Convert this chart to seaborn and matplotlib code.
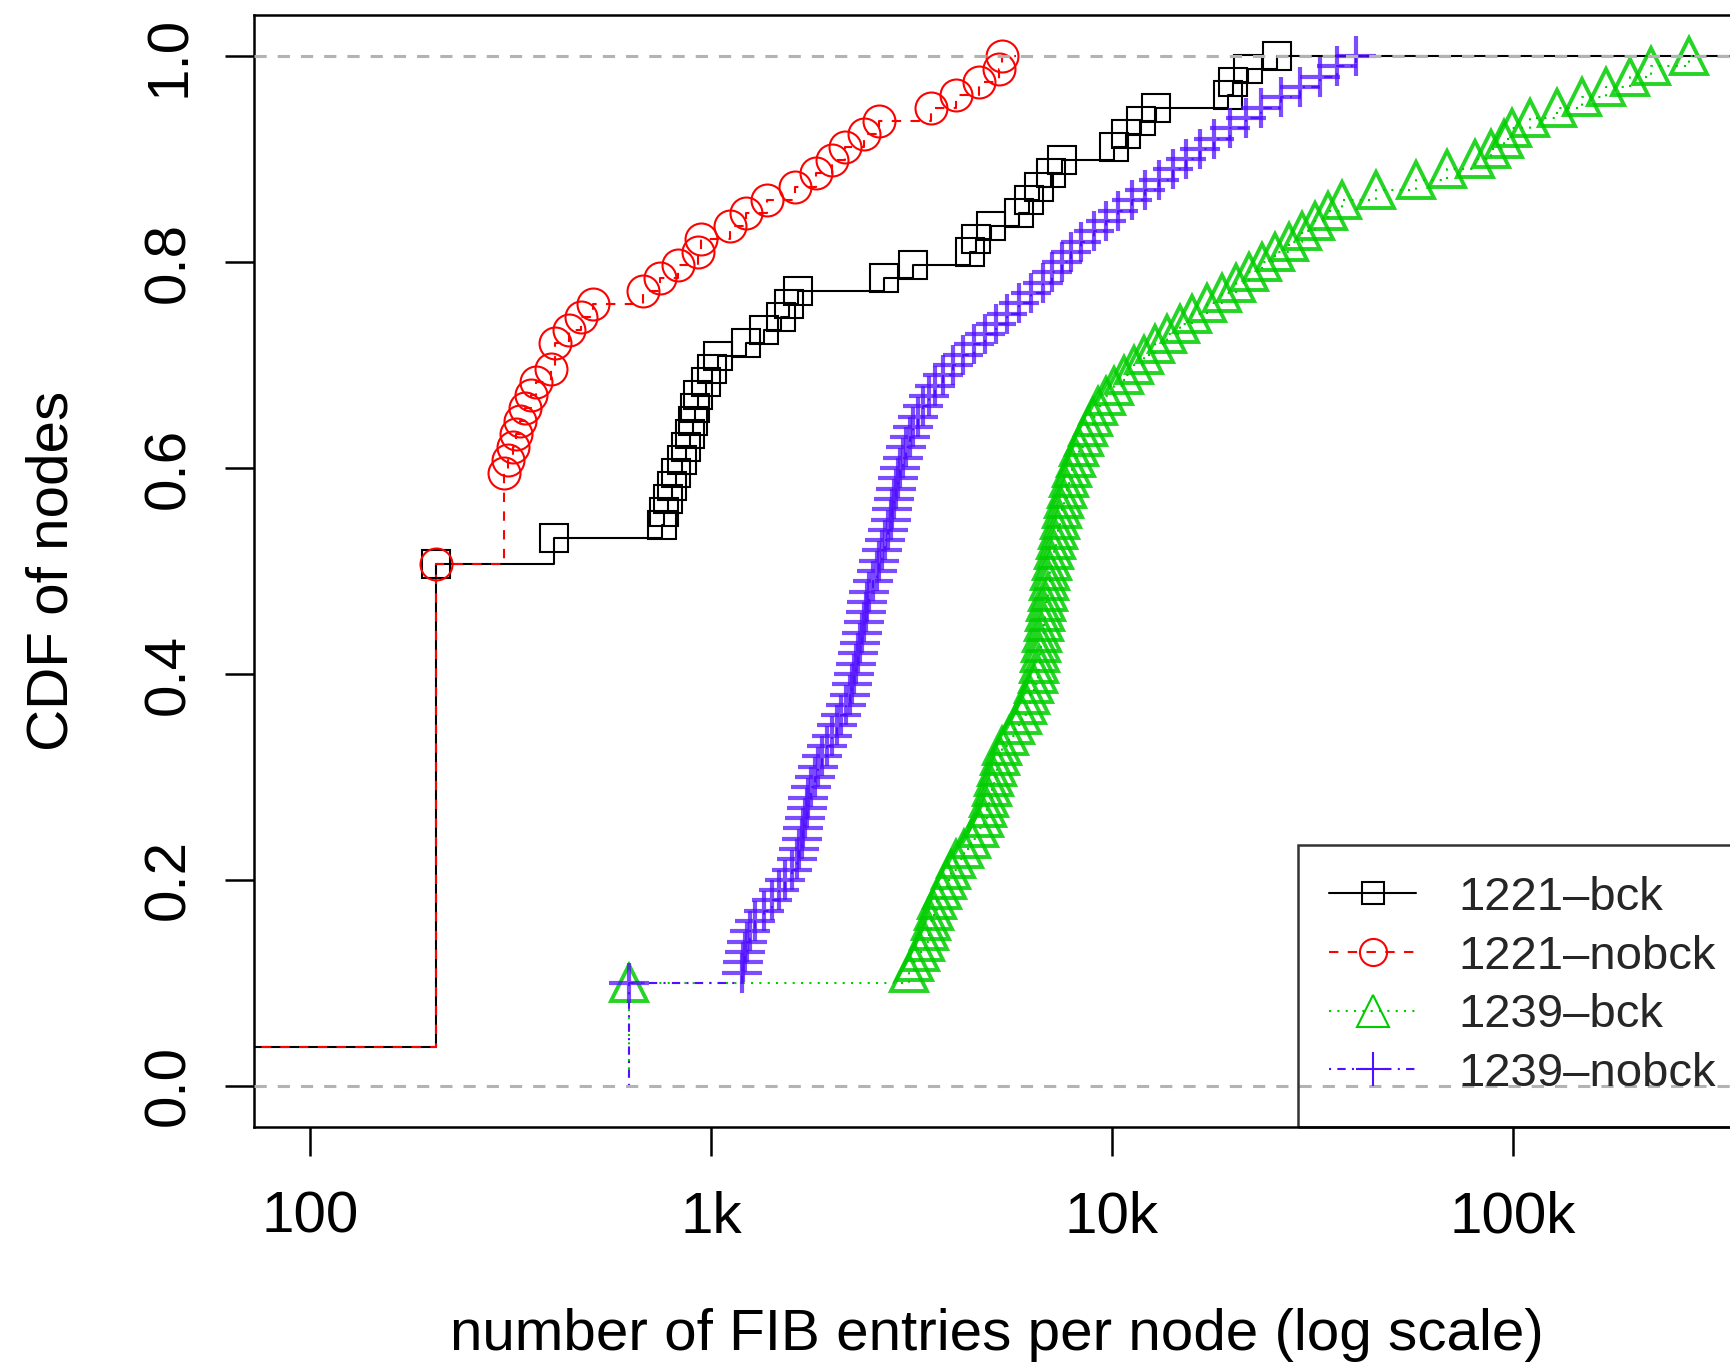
import numpy as np
import matplotlib
matplotlib.use("Agg")
import matplotlib.pyplot as plt
import seaborn as sns
from matplotlib.lines import Line2D
from matplotlib.ticker import FixedLocator, FixedFormatter, NullLocator

# FIB entries per node (10 = below the plotted range)
bck_1221 = [10] * 3 + [206] * 37 + [
    406, 406, 757, 765, 780, 800, 820, 845, 865, 885, 900, 915, 930, 975,
    1007, 1040, 1225, 1355, 1493, 1570, 1652, 2710, 3195, 4436, 4580, 5000,
    5870, 6200, 6580, 7050, 7510, 10140, 10870, 11800, 12890, 19450, 20090,
    21830, 25880,
]
nobck_1221 = [10] * 3 + [206] * 37 + [305] * 7 + [
    311, 320, 327, 335, 344, 355, 367, 399, 409, 409, 442, 475, 507, 679,
    747, 826, 927, 945, 1114, 1225, 1381, 1618, 1827, 2000, 2155, 2415,
    2624, 3532, 4090, 4670, 5240, 5330,
]
bck_1239 = [625] * 10 + [
    3112, 3214, 3319, 3420, 3499, 3548, 3597, 3656, 3767, 3873,
    3981, 4093, 4276, 4467, 4656, 4808, 4875, 4943, 5012, 5093,
    5164, 5248, 5333, 5534, 5741, 5957, 6138, 6266, 6397, 6531,
    6577, 6622, 6668, 6714, 6761, 6823, 6871, 6918, 6966, 7031,
    7079, 7161, 7261, 7345, 7447, 7534, 7621, 7727, 7834, 7980,
    8128, 8299, 8511, 8730, 8954, 9247, 9683, 10140, 10720, 11350,
    12020, 12820, 13770, 14790, 15890, 17260, 18790, 20420, 22030, 23710,
    25590, 27610, 29850, 32210, 34670, 37580, 45710, 57540, 68390, 80350,
    88310, 95060, 99770, 110700, 129100, 149300, 171400, 195900, 221800, 274800,
]
nobck_1239 = [625] * 10 + [
    1197, 1202, 1213, 1233, 1253, 1291, 1355, 1422, 1483, 1535,
    1589, 1641, 1663, 1683, 1702, 1718, 1734, 1750, 1778, 1816,
    1854, 1897, 1950, 2004, 2065, 2113, 2168, 2218, 2249, 2275,
    2301, 2328, 2355, 2382, 2410, 2432, 2455, 2483, 2541, 2594,
    2630, 2673, 2723, 2767, 2812, 2838, 2864, 2891, 2931, 2965,
    3006, 3062, 3133, 3199, 3281, 3388, 3499, 3614, 3802, 4027,
    4266, 4539, 4831, 5140, 5470, 5861, 6281, 6730, 7096, 7499,
    7907, 8395, 9016, 9661, 10380, 11220, 12130, 13120, 14190, 15350,
    16600, 18030, 19720, 21580, 23600, 26360, 29510, 33110, 36560, 40740,
]

legend_labels = ["1221\u2013bck", "1221\u2013nobck", "1239\u2013bck", "1239\u2013nobck"]
x_ticks = [100, 1000, 10000, 100000]
x_tick_labels = ["100", "1k", "10k", "100k"]
y_ticks = [0.0, 0.2, 0.4, 0.6, 0.8, 1.0]
y_tick_labels = ["0.0", "0.2", "0.4", "0.6", "0.8", "1.0"]

XLIM = (72.5, 369000)

styles = [
    dict(color="#000000", ls="-", marker="s", ms=20, leg_ms=16.5, mew=1.5, alpha=1.0, to_edge=True),
    dict(color="#FF0000", ls=(0, (4.5, 4.5)), marker="o", ms=23, leg_ms=19.5, mew=1.5, alpha=1.0, to_edge=False),
    dict(color="#00CD00", ls=(0, (1, 3)), marker="^", ms=26, leg_ms=23, mew=2.8, alpha=0.85, to_edge=False),
    dict(color="#5010FF", ls=(0, (1, 3, 4, 3)), marker="+", ms=29, leg_ms=24, mew=3.0, alpha=0.75, to_edge=False),
]


def ecdf_points(values):
    vals, counts = np.unique(np.asarray(values, dtype=float), return_counts=True)
    return vals, np.cumsum(counts) / counts.sum()


sns.set_theme(style="ticks")
plt.rcParams["font.family"] = ["Liberation Sans", "DejaVu Sans"]
plt.rcParams["axes.unicode_minus"] = False

fig = plt.figure(figsize=(17.31, 13.62), dpi=100)
ax = fig.add_axes([254 / 1731, 1 - 1127 / 1362, 1486 / 1731, 1112 / 1362])
ax.set_xscale("log")
ax.set_xlim(*XLIM)
ax.set_ylim(-0.04, 1.04)

for values, st in zip([bck_1221, nobck_1221, bck_1239, nobck_1239], styles):
    xs, ys = ecdf_points(values)
    # R's stepfun extends the last step by 8% of the range
    tail = XLIM[1] if st["to_edge"] else xs[-1] + 0.08 * (xs[-1] - xs[0])
    line_x = np.r_[xs[0], xs, tail]
    line_y = np.r_[0.0, ys, 1.0]
    sns.lineplot(x=line_x, y=line_y, ax=ax, estimator=None, sort=False,
                 drawstyle="steps-post", color=st["color"], linestyle=st["ls"],
                 linewidth=1.5, zorder=2)
    sns.lineplot(x=xs, y=ys, ax=ax, estimator=None, sort=False,
                 linestyle="none", marker=st["marker"], markersize=st["ms"],
                 mfc="none", mec=st["color"], mew=st["mew"], alpha=st["alpha"],
                 color=st["color"], zorder=3)

for level in (0.0, 1.0):
    ax.axhline(level, color="#B3B3B3", linestyle=(0, (4, 3.6)), linewidth=2.2, zorder=4)

ax.xaxis.set_major_locator(FixedLocator(x_ticks))
ax.xaxis.set_major_formatter(FixedFormatter(x_tick_labels))
ax.xaxis.set_minor_locator(NullLocator())
ax.set_yticks(y_ticks, y_tick_labels)
ax.tick_params(axis="both", direction="out", length=21, width=1.8,
               color="black", labelsize=42, labelcolor="black")
ax.tick_params(axis="x", pad=25)
ax.tick_params(axis="y", pad=29)
for lab in ax.get_yticklabels():
    lab.set(rotation=90, rotation_mode="anchor", ha="center", va="baseline")

for sp in ax.spines.values():
    sp.set_visible(True)
    sp.set_linewidth(1.8)
    sp.set_color("black")
ax.grid(False)

ax.set_xlabel("number of FIB entries per node (log scale)", fontsize=42, color="black")
ax.xaxis.set_label_coords(0.5, -0.163)
ax.set_ylabel("CDF of nodes", fontsize=42, color="black")
ax.yaxis.set_label_coords((80 - 254) / 1486, 0.5)

handles = [
    Line2D([], [], color=st["color"], linestyle=st["ls"], linewidth=1.5,
           marker=st["marker"], markersize=st["leg_ms"], mfc="none",
           mec=st["color"], mew=1.5)
    for st in styles
]
leg = ax.legend(handles, legend_labels, loc="lower right",
                bbox_to_anchor=(1.005, 0), borderaxespad=0,
                fontsize=34, frameon=True, fancybox=False, edgecolor="black",
                facecolor="none", handlelength=1.85, handletextpad=0.9,
                borderpad=0.66, labelspacing=0.31)
leg.get_frame().set_linewidth(1.8)

fig.savefig("out.png", dpi=100)
